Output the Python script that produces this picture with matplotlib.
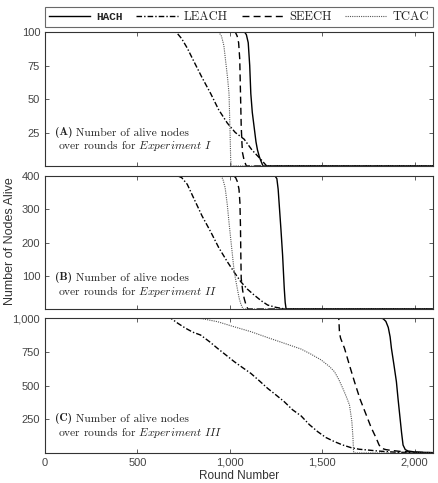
import matplotlib
matplotlib.use('Agg')
from matplotlib import pyplot as plt
from matplotlib.lines import Line2D
from matplotlib.ticker import FuncFormatter

plt.rcParams['mathtext.fontset'] = 'cm'
plt.rcParams['font.family'] = 'Liberation Sans'

# Experiment I (100 nodes)
hach_a_x = [0, 1080, 1090, 1100, 1108, 1114, 1122, 1132, 1142, 1150, 1160, 1168, 1180, 2100]
hach_a_y = [100, 100, 98, 92, 75, 54, 40, 29, 18, 12, 7, 4, 0, 0]
seech_a_x = [0, 1030, 1040, 1048, 1054, 1058, 1062, 1066, 1069, 1078, 1090, 2100]
seech_a_y = [100, 100, 97, 92, 80, 55, 30, 17, 10, 4, 0, 0]
tcac_a_x = [0, 940, 955, 968, 978, 988, 996, 1001, 1005, 1009, 2100]
tcac_a_y = [100, 100, 97, 90, 78, 66, 54, 29, 5, 0, 0]
leach_a_x = [0, 705, 716, 740, 770, 806, 850, 897, 940, 987, 1030, 1078, 1120, 1168, 1200, 2100]
leach_a_y = [100, 100, 99, 95, 88, 78, 66, 54, 42, 32, 25, 20, 12, 5, 0, 0]

# Experiment II (400 nodes)
hach_b_x = [0, 1245, 1255, 1262, 1268, 1277, 1286, 1295, 1300, 1305, 2100]
hach_b_y = [400, 400, 392, 360, 312, 240, 162, 62, 20, 0, 0]
seech_b_x = [0, 1022, 1032, 1042, 1050, 1055, 1058, 1060, 1062, 1070, 1078, 1088, 1098, 2100]
seech_b_y = [400, 400, 395, 382, 360, 320, 250, 160, 92, 55, 32, 12, 0, 0]
tcac_b_x = [0, 950, 962, 975, 987, 996, 1005, 1015, 1024, 1038, 1051, 1060, 1072, 2100]
tcac_b_y = [400, 400, 392, 365, 312, 260, 212, 160, 112, 70, 32, 15, 0, 0]
leach_b_x = [0, 720, 740, 770, 806, 850, 897, 940, 987, 1025, 1060, 1095, 1132, 1170, 1205, 1250, 1300, 2100]
leach_b_y = [400, 400, 395, 375, 332, 280, 232, 185, 142, 110, 82, 60, 42, 25, 12, 5, 0, 0]

# Experiment III (1000 nodes)
hach_c_x = [0, 1815, 1830, 1845, 1858, 1868, 1875, 1889, 1902, 1911, 1920, 1930, 1938, 1950, 1965, 2000, 2050, 2100]
hach_c_y = [1000, 1000, 995, 975, 930, 860, 776, 650, 528, 400, 281, 150, 59, 25, 15, 8, 5, 3]
seech_c_x = [0, 1590, 1594, 1600, 1610, 1621, 1648, 1675, 1705, 1739, 1765, 1793, 1808, 1821, 1845, 1870, 1920, 2000, 2100]
seech_c_y = [1000, 1000, 889, 850, 815, 776, 650, 528, 400, 281, 190, 109, 60, 35, 25, 20, 12, 6, 2]
tcac_c_x = [0, 800, 850, 933, 1024, 1114, 1205, 1295, 1386, 1440, 1495, 1540, 1567, 1590, 1612, 1630, 1648, 1661, 1667, 1670, 1675, 2100]
tcac_c_y = [1000, 1000, 995, 973, 935, 899, 855, 813, 770, 732, 689, 640, 602, 545, 479, 420, 356, 232, 109, 10, 0, 0]
leach_c_x = [0, 679, 720, 760, 800, 842, 890, 933, 980, 1024, 1070, 1114, 1160, 1205, 1250, 1295, 1340, 1386, 1431, 1476, 1520, 1567, 1610, 1658, 1700, 1748, 1800, 1850, 1900, 2000, 2100]
leach_c_y = [1000, 1000, 960, 925, 895, 874, 825, 776, 725, 677, 632, 590, 535, 479, 430, 380, 320, 275, 210, 158, 115, 84, 60, 39, 28, 22, 15, 10, 6, 3, 1]

methods = ['HACH', 'LEACH', 'SEECH', 'TCAC']
styles = {
    'HACH': dict(color='black', linestyle='-', linewidth=1.0),
    'LEACH': dict(color='black', linestyle=(0, (4, 1.5, 1, 1.5)), linewidth=1.0),
    'SEECH': dict(color='black', linestyle=(0, (5, 3)), linewidth=1.0),
    'TCAC': dict(color='#555555', linestyle=(0, (1, 1)), linewidth=0.8),
}

panels = [
    dict(ylim=(0, 100), yticks=[25, 50, 75, 100],
         data={'HACH': (hach_a_x, hach_a_y), 'LEACH': (leach_a_x, leach_a_y),
               'SEECH': (seech_a_x, seech_a_y), 'TCAC': (tcac_a_x, tcac_a_y)},
         tag='A', exp='I'),
    dict(ylim=(0, 400), yticks=[100, 200, 300, 400],
         data={'HACH': (hach_b_x, hach_b_y), 'LEACH': (leach_b_x, leach_b_y),
               'SEECH': (seech_b_x, seech_b_y), 'TCAC': (tcac_b_x, tcac_b_y)},
         tag='B', exp='II'),
    dict(ylim=(0, 1000), yticks=[250, 500, 750, 1000],
         data={'HACH': (hach_c_x, hach_c_y), 'LEACH': (leach_c_x, leach_c_y),
               'SEECH': (seech_c_x, seech_c_y), 'TCAC': (tcac_c_x, tcac_c_y)},
         tag='C', exp='III'),
]

# axes boxes in figure fractions (left, bottom, width, height)
boxes = [
    (0.1025, 0.6563, 0.8838, 0.2774),
    (0.1025, 0.3602, 0.8838, 0.2754),
    (0.1025, 0.0621, 0.8838, 0.2795),
]
# baselines of the two caption lines (axes fractions)
caption_y = [(0.231, 0.127), (0.218, 0.105), (0.237, 0.126)]

comma = FuncFormatter(lambda v, p: f'{int(v):,}')
txt_color = '#222222'
fs = 8.3

fig = plt.figure(figsize=(4.39, 4.83), dpi=100)
for i, (panel, box) in enumerate(zip(panels, boxes)):
    ax = fig.add_axes(box)
    for m in methods:
        xs, ys = panel['data'][m]
        ax.plot(xs, ys, **styles[m])
    ax.set_xlim(0, 2100)
    ax.set_ylim(*panel['ylim'])
    ax.set_yticks(panel['yticks'])
    ax.set_xticks([0, 500, 1000, 1500, 2000])
    ax.yaxis.set_major_formatter(comma)
    ax.xaxis.set_major_formatter(comma)
    ax.tick_params(direction='in', top=True, right=True, length=3, width=0.6,
                   labelsize=8, labelcolor='#444444', color='#444444')
    if i < 2:
        ax.tick_params(labelbottom=False)
    for s in ax.spines.values():
        s.set_color('#333333')
        s.set_linewidth(0.8)

    # caption: bold tag + roman text, second line with italic experiment name
    y1, y2 = caption_y[i]
    t1 = ax.text(0.025, y1, '(' + panel['tag'] + ')', transform=ax.transAxes,
                 family='cmb10', fontsize=fs, color=txt_color, va='baseline')
    ax.annotate(' Number of alive nodes', xy=(1, 0), xycoords=t1,
                family='cmr10', fontsize=fs, color=txt_color, va='bottom')
    ax.text(0.033, y2, r'over rounds for $\mathit{Experiment\ ' + panel['exp'] + r'}$',
            transform=ax.transAxes, family='cmr10', fontsize=fs, color=txt_color,
            va='baseline')

handles = [Line2D([], [], **styles[m]) for m in methods]
leg = fig.legend(handles, methods, loc='lower left', ncol=4, mode='expand',
                 bbox_to_anchor=(0.1025, 1 - 27 / 483, 0.8838, 22 / 483),
                 borderaxespad=0, fancybox=False, edgecolor='#444444',
                 fontsize=9, handlelength=3.3, handletextpad=0.5, columnspacing=1.0,
                 borderpad=0.3)
leg.get_frame().set_linewidth(0.8)
for t in leg.get_texts():
    if t.get_text() == 'HACH':
        t.set_family('Liberation Mono')
        t.set_weight('bold')
        t.set_fontsize(8)
    else:
        t.set_family('cmr10')
    t.set_color(txt_color)

fig.text(0.022, 0.5, 'Number of Nodes Alive', rotation=90, ha='center', va='center',
         fontsize=9, color='#333333')
fig.text(0.544, 0.002, 'Round Number', ha='center', va='bottom',
         fontsize=8.5, color='#333333')

plt.savefig('out.png', dpi=100)
